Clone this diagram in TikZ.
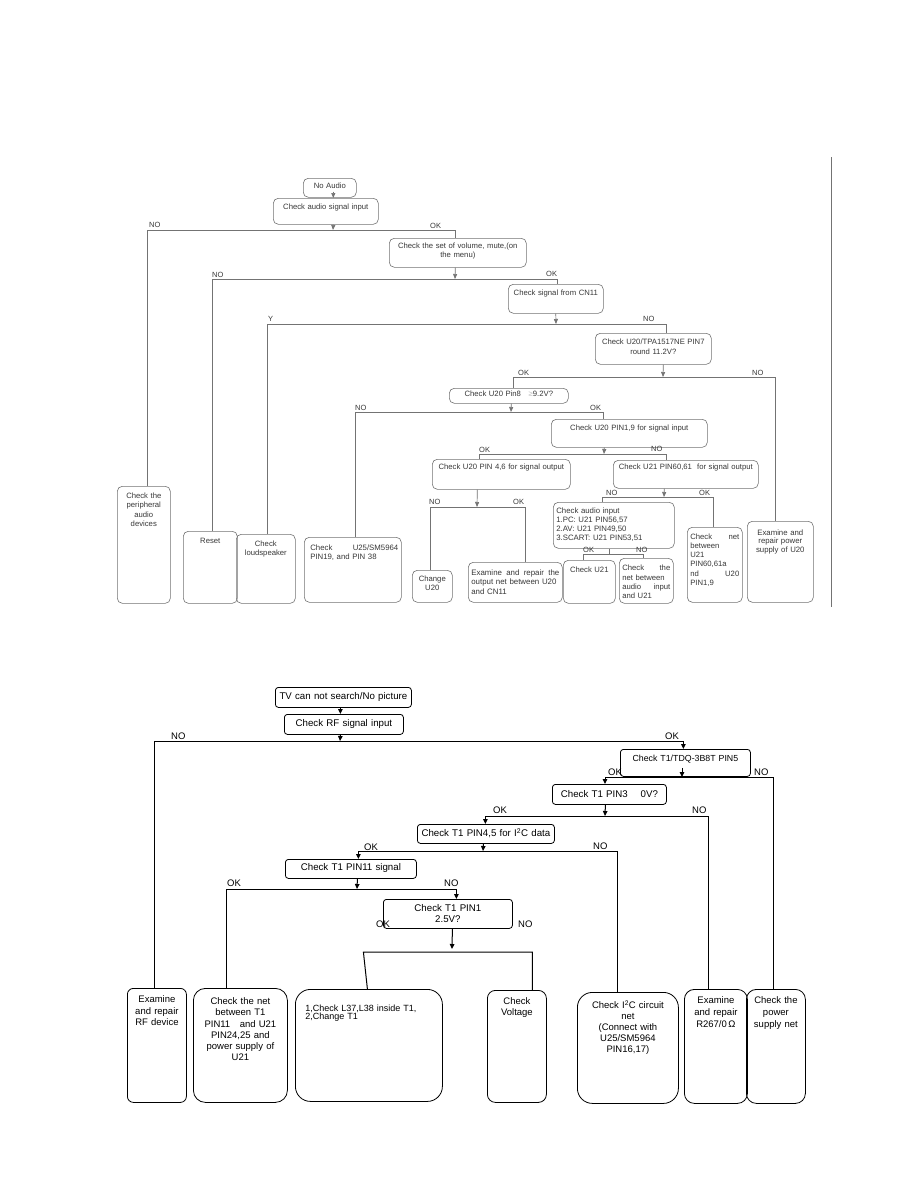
\documentclass[tikz,border=0pt]{standalone}
\usepackage{fontspec}
\setmainfont{Liberation Sans}
\usetikzlibrary{arrows.meta}
\definecolor{tc}{gray}{0.22}
\definecolor{lc}{gray}{0.45}
\newcommand\TopF{\fontsize{7.7}{9.2}\selectfont}
\newcommand\TopL{\fontsize{7.5}{9}\selectfont}
\newcommand\BotF{\fontsize{9.7}{10.6}\selectfont}
\newcommand\BotB{\fontsize{9.5}{11.3}\selectfont}
\newcommand\BotL{\fontsize{9.5}{11}\selectfont}
\tikzset{
  bx/.code n args={3}{\pgfmathsetmacro\bxw{#1-6}\pgfmathsetmacro\bxd{#2-#3}%
    \edef\bxtmp{\noexpand\pgfkeysalso{text width=\bxw pt,text height=#3pt,text depth=\bxd pt}}\bxtmp},
  tb/.style={draw=lc, line width=0.6pt, rounded corners=5pt, anchor=north west,
    inner xsep=3pt, inner ysep=0pt, align=center, text=tc, font=\TopF},
  tl/.style={draw=lc, line width=0.7pt},
  ta/.style={tl, -{Triangle[length=5pt,width=4pt]}},
  lab/.style={inner sep=0pt, anchor=base west, text=tc, font=\TopL},
  bb/.style={draw=black, line width=0.8pt, rounded corners=3pt, anchor=north west,
    inner xsep=3pt, inner ysep=0pt, align=center, font=\BotF},
  bl/.style={draw=black, line width=1pt},
  ba/.style={bl, -{Triangle[length=5pt,width=4.5pt]}},
  blab/.style={inner sep=0pt, anchor=base west, font=\BotL},
}
\begin{document}
\begin{tikzpicture}[x=1pt,y=-1pt]
\fill[white] (0,0) rectangle (918,1188);
\useasboundingbox (0,0) rectangle (918,1188);

% ================= TOP DIAGRAM =================
\node[tb,bx={105}{26}{11}] (csi) at (273,198) {Check audio signal input};
\node[tb,bx={53}{19}{10}] (na) at (303,178) {No Audio};
\node[tb,bx={137}{29}{10}] (vol) at (389,238) {Check the set of volume, mute,(on\\the menu)};
\node[tb,bx={95}{29}{11}] (cn) at (508,284) {Check signal from CN11};
\node[tb,bx={116}{31}{11.5}] (t5) at (595,333) {Check U20/TPA1517NE PIN7\\round 11.2V?};
\node[tb,bx={119}{15}{8}] (t6) at (449,388) {Check U20 Pin8\quad{\color{gray!50}≥}9.2V?};
\node[tb,bx={156}{28}{11}] (t7) at (551,419) {Check U20 PIN1,9 for signal input};
\node[tb,bx={138}{30}{10}] (t8) at (432,459) {Check U20 PIN 4,6 for signal output};
\node[tb,bx={145}{28}{9.5}] (t9) at (613,460) {Check U21 PIN60,61\ \ for signal output};
\node[tb,bx={40}{32}{11},font={\fontsize{7.7}{8.8}\selectfont}] (cu20) at (412,570) {Change\\U20};
\node[tb,bx={94}{40}{13},align=left,font={\fontsize{7.9}{9.6}\selectfont}] (eo) at (468,562) {Examine\hfill and\hfill repair\hfill the\\output net between U20\\and CN11};
\node[tb,bx={121}{46}{11.5},align=left,font={\fontsize{7.8}{9}\selectfont}] (cai) at (553,502) {Check audio input\\1.PC: U21 PIN56,57\\2.AV: U21 PIN49,50\\3.SCART: U21 PIN53,51};
\node[tb,bx={52}{43}{12}] (cu21) at (563,560) {Check U21};
\node[tb,bx={54}{45}{12.3},align=left,font={\fontsize{7.7}{9.4}\selectfont}] (cna) at (619,558) {Check\hfill the\\net between\\audio\hfill input\\and U21};
\node[tb,bx={55}{75}{12},align=left,font={\fontsize{7.7}{9.2}\selectfont}] (ckn) at (687,527) {Check\hfill net\\between\\U21\\PIN60,61a\\nd\hfill U20\\PIN1,9};
\node[tb,bx={66}{81}{13.7},font={\fontsize{7.8}{8.9}\selectfont}] (ep) at (747,521) {Examine and\\repair power\\supply of U20};
\node[tb,bx={53}{117}{12},font={\fontsize{7.7}{9.4}\selectfont}] (pe) at (117,486) {Check the\\peripheral\\audio\\devices};
\node[tb,bx={54}{72}{12}] (rs) at (183,531) {Reset};
\node[tb,bx={59}{69}{11.7}] (ls) at (236,534) {Check\\loudspeaker};
\node[tb,bx={97}{65}{12.7},align=left,font={\fontsize{7.8}{9.3}\selectfont}] (u25) at (304,537) {\hspace*{3pt}Check\hfill U25/SM5964\\\hspace*{3pt}PIN19, and PIN 38};

% junction coordinates
\coordinate (j1) at (333,230);
\coordinate (j2) at (455,279);
\coordinate (j3) at (556,324);
\coordinate (j4) at (663,377);
\coordinate (j5) at (511,412);
\coordinate (j6) at (604,454);
\coordinate (j7) at (477,507);
\coordinate (j8) at (664,497);
\coordinate (j9) at (609,554);

% connectors
\draw[ta] ([xshift=3.5pt,yshift=6pt]na.south) -- ([xshift=3.5pt]na.south |- csi.north);
\draw[ta] ([xshift=7.5pt]csi.south) -- (j1);
\draw[tl] ([xshift=3.5pt]pe.north) -- ([xshift=3.5pt]pe.north |- j1) -- ([xshift=-2.5pt]vol.north |- j1) -- ([xshift=-2.5pt]vol.north);
\draw[ta] ([xshift=-2.5pt]vol.south) -- (j2);
\draw[tl] ([xshift=2pt]rs.north) -- ([xshift=2pt]rs.north |- j2) -- ([xshift=1.5pt]cn.north |- j2) -- ([xshift=1.5pt]cn.north);
\draw[ta] (cn.south) -- (j3);
\draw[tl] ([xshift=2pt]ls.north) -- ([xshift=2pt]ls.north |- j3) -- ([xshift=13pt]t5.north |- j3) -- ([xshift=13pt]t5.north);
\draw[ta] ([xshift=10pt]t5.south) -- (j4);
\draw[tl] ([xshift=4.5pt]t6.north) -- ([xshift=4.5pt]t6.north |- j4) -- ([xshift=-5pt]ep.north |- j4) -- ([xshift=-5pt]ep.north);
\draw[ta] ([xshift=2.5pt]t6.south) -- (j5);
\draw[tl] ([xshift=2.5pt]u25.north) -- ([xshift=2.5pt]u25.north |- j5) -- ([xshift=-26pt]t7.north |- j5) -- ([xshift=-26pt]t7.north);
\draw[ta] ([xshift=-25pt]t7.south) -- (j6);
\draw[tl] ([xshift=-22pt]t8.north) -- ([xshift=-22pt]t8.north |- j6) -- ([xshift=-19.5pt]t9.north |- j6) -- ([xshift=-19.5pt]t9.north);
\draw[ta] ([xshift=-24pt]t8.south) -- (j7);
\draw[tl] ([xshift=-2pt]cu20.north) -- ([xshift=-2pt]cu20.north |- j7) -- ([xshift=10pt]eo.north |- j7) -- ([xshift=10pt]eo.north);
\draw[ta] ([xshift=-21.5pt]t9.south) -- (j8);
\draw[tl] ([xshift=-11.5pt]cai.north) -- ([xshift=-11.5pt]cai.north |- j8) -- ([xshift=-1.5pt]ckn.north |- j8) -- ([xshift=-1.5pt]ckn.north);
\draw[tl] (cai.south -| j9) -- (j9);
\draw[tl] ([xshift=-6pt]cu21.north) -- ([xshift=-6pt]cu21.north |- j9) -- ([xshift=-3pt]cna.north |- j9) -- ([xshift=-3pt]cna.north);

% right border
\draw[tl] (831,157) -- (831,607);

% labels
\node[lab] (l1) at (149,227) {NO};
\node[lab] (l2) at (430,228.5) {OK};
\node[lab] (l3) at (212,277.5) {NO};
\node[lab] (l4) at (546,276.5) {OK};
\node[lab] (l5) at (268,321.5) {Y};
\node[lab] (l6) at (643,321.5) {NO};
\node[lab] (l7) at (518,375.5) {OK};
\node[lab] (l8) at (752,375.5) {NO};
\node[lab] (l9) at (355,410.5) {NO};
\node[lab] (l10) at (590,410.5) {OK};
\node[lab] (l11) at (479,452) {OK};
\node[lab] (l12) at (651,451.5) {NO};
\node[lab] (l13) at (429,504.5) {NO};
\node[lab] (l14) at (513,504.5) {OK};
\node[lab] (l15) at (606,495.5) {NO};
\node[lab] (l16) at (699,495) {OK};
\node[lab] (l17) at (583,552.5) {OK};
\node[lab] (l18) at (636,552.5) {NO};

% ================= BOTTOM DIAGRAM =================
\node[bb,bx={136}{20}{12.5}] (b1) at (275,687) {TV can not search/No picture};
\node[bb,bx={119}{20}{12.3}] (b2) at (284,714) {Check RF signal input};
\node[bb,bx={130}{27}{12},font={\fontsize{8.8}{10}\selectfont}] (b3) at (620,749) {Check T1/TDQ-3B8T PIN5};
\node[bb,bx={114}{20}{13}] (b4) at (552,784) {Check T1 PIN3\quad\ 0V?};
\node[bb,bx={137}{19}{12.3}] (b5) at (417,824) {Check T1 PIN4,5 for I\textsuperscript{2}C data};
\node[bb,bx={131}{19}{11.3}] (b6) at (285,859) {Check T1 PIN11 signal};
\node[bb,bx={129}{29}{12.3}] (b7) at (383,899) {Check T1 PIN1\\2.5V?};

\node[bb,rounded corners=6pt,bx={59}{114}{14.5},font=\BotB] (rf) at (127,988) {Examine\\and repair\\RF device};
\node[bb,rounded corners=12pt,bx={94}{114}{16},font=\BotB] (cnt) at (193,988) {Check the net\\between T1\\PIN11\quad and U21\\PIN24,25 and\\power supply of\\U21};
\node[bb,rounded corners=15pt,bx={147}{112}{22},align=left,font={\fontsize{9}{8.5}\selectfont}] (l37) at (295,989) {\hspace*{7pt}1,Check L37,L38 inside T1,\\\hspace*{7pt}2,Change T1};
\node[bb,rounded corners=8pt,bx={59}{112}{14},font={\fontsize{9.5}{11.5}\selectfont}] (cv) at (487,990) {Check\\Voltage};
\node[bb,rounded corners=15pt,bx={101}{111}{16.5},font={\fontsize{9.5}{11}\selectfont}] (i2c) at (577,992) {Check I\textsuperscript{2}C circuit\\net\\(Connect with\\U25/SM5964\\PIN16,17)};
\node[bb,rounded corners=10pt,bx={63}{114}{14.5},font={\fontsize{9.5}{11.7}\selectfont}] (r267) at (684,989) {Examine\\and repair\\R267/0\,Ω};
\node[bb,rounded corners=10pt,bx={59}{114}{14.5},font={\fontsize{9.5}{11.7}\selectfont}] (ps) at (746,989) {Check the\\power\\supply net};

\coordinate (k1) at (340,741);
\coordinate (k2) at (682,777);
\coordinate (k3) at (605,777);
\coordinate (k4) at (605,816);
\coordinate (k5) at (483,851);
\coordinate (k6) at (357,889);
\coordinate (k7) at (452,952);

\draw[ba] ([xshift=-3pt]b1.south) -- ([xshift=-3pt]b1.south |- b2.north);
\draw[ba] ([xshift=-3.5pt]b2.south) -- (k1);
\draw[bl] ([xshift=-2.5pt]rf.north) |- ([xshift=-2pt]b3.north |- k1);
\draw[ba] ([xshift=-2pt]b3.north |- k1) -- ([xshift=-2pt]b3.north);

\draw[ba] ([yshift=9pt]b3.south -| k2) -- (k2);
\draw[bl] (k3) -| ([xshift=-2.5pt]ps.north);
\draw[ba] (k3) -- (k3 |- b4.north);

\draw[ba] ([xshift=-4pt]b4.south) -- (k4);
\draw[bl] ([xshift=-0.5pt]b5.north |- k4) -| ([xshift=-7.5pt]r267.north);
\draw[ba] ([xshift=-0.5pt]b5.north |- k4) -- ([xshift=-0.5pt]b5.north);

\draw[ba] ([xshift=-2.5pt]b5.south) -- (k5);
\draw[bl] ([xshift=7.5pt]b6.north |- k5) -| ([xshift=-10.5pt]i2c.north);
\draw[ba] ([xshift=7.5pt]b6.north |- k5) -- ([xshift=7.5pt]b6.north);

\draw[ba] ([xshift=6.5pt]b6.south) -- (k6);
\draw[bl] ([xshift=-14pt]cnt.north) |- ([xshift=8.5pt]b7.north |- k6);
\draw[ba] ([xshift=8.5pt]b7.north |- k6) -- ([xshift=8.5pt]b7.north);

\draw[ba] ([xshift=4.5pt]b7.south) -- ([yshift=3pt]k7);
\draw[bl] ([xshift=-1.5pt]l37.north) -- ([xshift=-5.5pt]l37.north |- k7) -- ([xshift=15.5pt]cv.north |- k7) -- ([xshift=15.5pt]cv.north);

\node[blab] (m1) at (171,739.5) {NO};
\node[blab] (m2) at (665,739.5) {OK};
\node[blab] (m3) at (608,775) {OK};
\node[blab] (m4) at (754,775.5) {NO};
\node[blab] (m5) at (493,813.5) {OK};
\node[blab] (m6) at (692,813.5) {NO};
\node[blab] (m7) at (364,850) {OK};
\node[blab] (m8) at (593,849) {NO};
\node[blab] (m9) at (227,886) {OK};
\node[blab] (m10) at (444,886.5) {NO};
\node[blab] (m11) at (376,927.5) {OK};
\node[blab] (m12) at (518,927.5) {NO};
\end{tikzpicture}
\end{document}
